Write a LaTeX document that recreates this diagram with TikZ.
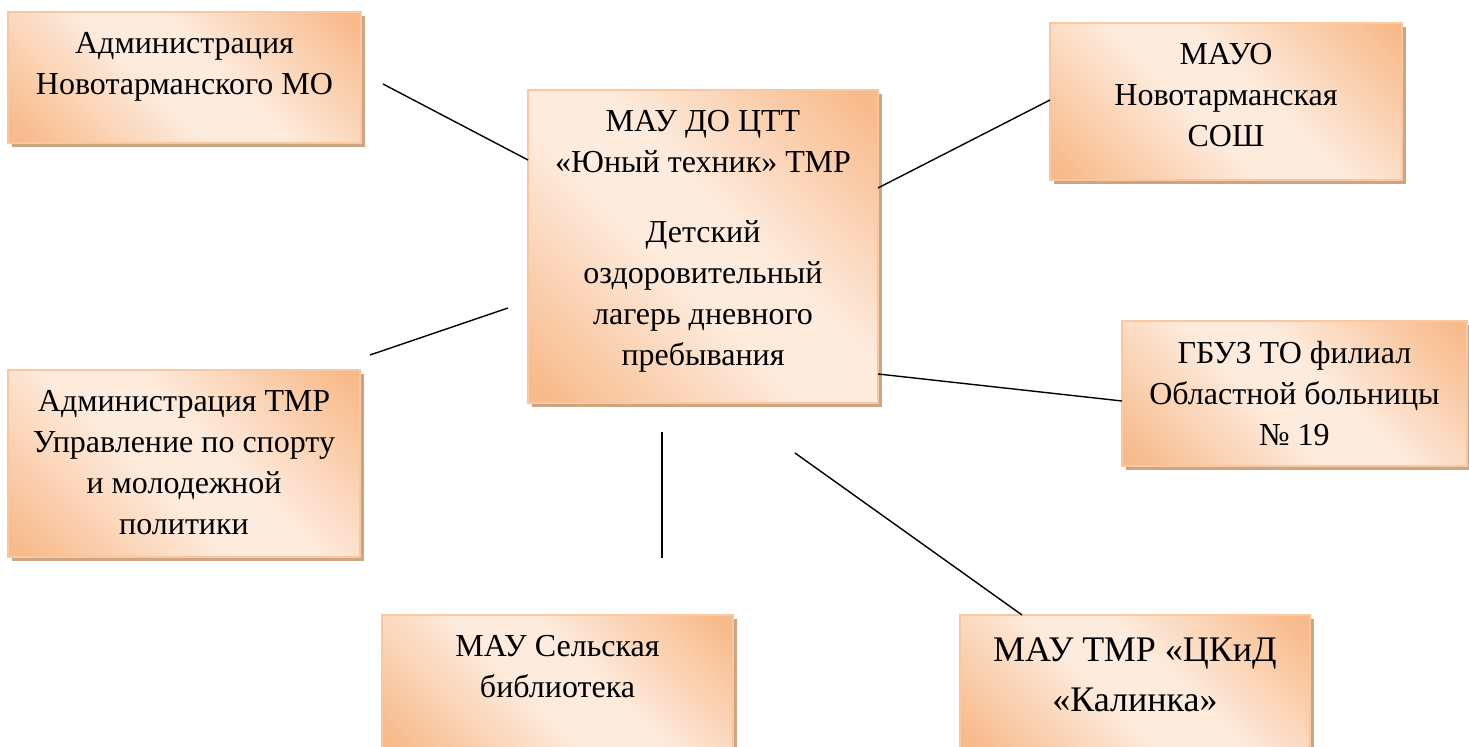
\documentclass[tikz,border=0pt]{standalone}
\usepackage{fontspec}
\setmainfont{Liberation Serif}
\newfontfamily\boxfont{Liberation Serif}
\usepackage{tikz}
\usetikzlibrary{calc,shadows}
\definecolor{peach}{HTML}{F8BA8A}
\definecolor{cream}{HTML}{FDEBDD}
\definecolor{rim}{HTML}{F9C8A2}
\definecolor{shadowtan}{HTML}{CDA582}
\pgfdeclarehorizontalshading{peachfade}{100bp}{color(0bp)=(peach); color(17bp)=(peach); color(44bp)=(cream); color(56bp)=(cream); color(83bp)=(peach); color(100bp)=(peach)}
\tikzset{
  box/.style={draw=rim, line width=0.75pt, shading=peachfade, shading angle=45,
    anchor=north west, inner sep=0pt, outer sep=0pt,
    drop shadow={shadow xshift=1.8pt, shadow yshift=-2.2pt, fill=shadowtan, opacity=1}},
  lab/.style={font=\boxfont\fontsize{16}{20.5}\selectfont, align=center, anchor=north, inner sep=0pt, yshift=-10pt},
  labbig/.style={lab, font=\boxfont\fontsize{18}{25}\selectfont, yshift=-1.4pt},
  link/.style={draw=black, line width=0.7pt},
}

\begin{document}
\begin{tikzpicture}[x=0.5pt, y=-0.5pt]
  \useasboundingbox (0,0) rectangle (1469,747);
  % boxes
  \node[box, minimum width=176.5pt, minimum height=65.5pt,
    label={[lab]north:{Администрация\\Новотарманского МО}}] (mo) at (8,12) {};
  \node[box, minimum width=175pt, minimum height=156.5pt,
    label={[lab]north:{МАУ ДО ЦТТ\\«Юный техник» ТМР\\[14.5pt]Детский\\оздоровительный\\лагерь дневного\\пребывания}}] (ctr) at (528,90) {};
  \node[box, minimum width=176pt, minimum height=78.5pt,
    label={[lab]north:{МАУО\\Новотарманская\\СОШ}}] (mayo) at (1050,23) {};
  \node[box, minimum width=172.5pt, minimum height=72.5pt,
    label={[lab]north:{ГБУЗ ТО филиал\\Областной больницы\\№ 19}}] (gbuz) at (1122,321) {};
  \node[box, minimum width=176pt, minimum height=93.5pt,
    label={[lab]north:{Администрация ТМР\\Управление по спорту\\и молодежной\\политики}}] (tmr) at (8,370) {};
  \node[box, minimum width=175.5pt, minimum height=67.5pt,
    label={[lab]north:{МАУ Сельская\\библиотека}}] (lib) at (382,615) {};
  \node[box, minimum width=175pt, minimum height=67.5pt,
    label={[labbig]north:{МАУ ТМР «ЦКиД\\«Калинка»}}] (ckid) at (960,615) {};
  % connectors
  \coordinate (mo end) at (383,84);
  \coordinate (tmr end) at (370,355);
  \coordinate (tmr tip) at (508,308);
  \coordinate (lib end) at (662,558);
  \coordinate (lib tip) at (662,432);
  \coordinate (ckid tip) at (795,453);
  \draw[link] (mo end) -- ($(ctr.north west)+(0,70)$);
  \draw[link] ($(ctr.north east)+(0,98)$) -- ($(mayo.north west)+(0,77)$);
  \draw[link] (tmr end) -- (tmr tip);
  \draw[link] ($(ctr.north east)+(0,284)$) -- ($(gbuz.north west)+(0,80)$);
  \draw[link] (lib tip) -- (lib end);
  \draw[link] (ckid tip) -- ($(ckid.north west)+(62,0)$);
\end{tikzpicture}
\end{document}
